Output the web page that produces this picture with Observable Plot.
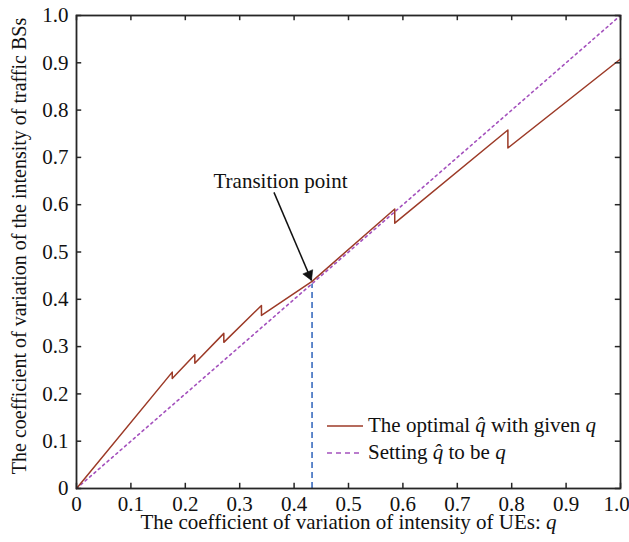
<!DOCTYPE html>
<html>
<head>
<meta charset="utf-8">
<script src="https://cdn.jsdelivr.net/npm/d3@7"></script>
<script src="https://cdn.jsdelivr.net/npm/@observablehq/plot@0.6"></script>
<style>
  body { margin: 0; background: #fff; }
  #wrap { position: relative; width: 629px; height: 542px; font-family: "Liberation Serif", "DejaVu Serif", serif; }
  #legend { position: absolute; left: 327px; top: 412px; font-size: 21px; color: #111; }
  .row { display: flex; align-items: center; height: 27px; white-space: nowrap; }
  .row svg { margin-right: 5px; }
  i { font-style: italic; }
</style>
</head>
<body>
<div id="wrap"><div id="legend"></div></div>
<script>
// ---- data ----
const optimalQ = [0, 0.176, 0.176, 0.2175, 0.2175, 0.2708, 0.2708, 0.340, 0.340, 0.433, 0.585, 0.585, 0.793, 0.793, 1.0];
const optimalQhat = [0, 0.246, 0.2326, 0.283, 0.265, 0.328, 0.309, 0.387, 0.366, 0.438, 0.591, 0.561, 0.758, 0.720, 0.908];
const refQ = [0, 1];
const refQhat = [0, 1];
const transitionQ = [0.433];
const transitionQhat = [0.432];
const arrowFrom = [0.363, 0.626];
const arrowTo = [0.432, 0.44];
const annotationText = ["Transition point"];
const annotationPos = [0.375, 0.649];
const xTicks = [0, 0.1, 0.2, 0.3, 0.4, 0.5, 0.6, 0.7, 0.8, 0.9, 1.0];
const xTickLabels = ["0", "0.1", "0.2", "0.3", "0.4", "0.5", "0.6", "0.7", "0.8", "0.9", "1.0"];
const yTicks = [0, 0.1, 0.2, 0.3, 0.4, 0.5, 0.6, 0.7, 0.8, 0.9, 1.0];
const yTickLabels = ["0", "0.1", "0.2", "0.3", "0.4", "0.5", "0.6", "0.7", "0.8", "0.9", "1.0"];
const xLabel = "The coefficient of variation of intensity of UEs: q";
const yLabel = "The coefficient of variation of the intensity of traffic BSs";
const seriesNames = ["The optimal q\u0302 with given q", "Setting q\u0302 to be q"];

// ---- styles ----
const RED = "#9c3a27";
const PURPLE = "#a451bd";
const BLUE = "#3b6cbf";
const AX = "#262626";
const FONT = "Liberation Serif";
const FS = 21;

const optimal = optimalQ.map((q, i) => ({q, v: optimalQhat[i]}));
const ref = refQ.map((q, i) => ({q, v: refQhat[i]}));
const trans = transitionQ.map((q, i) => ({q, v: transitionQhat[i]}));
const arrow = [{x1: arrowFrom[0], y1: arrowFrom[1], x2: arrowTo[0], y2: arrowTo[1]}];
const tl = 0.011;

const svg = Plot.plot({
  width: 629,
  height: 542,
  marginLeft: 76,
  marginRight: 9,
  marginTop: 15,
  marginBottom: 54,
  style: {fontFamily: FONT, fontSize: FS + "px", color: "#111", background: "transparent", overflow: "visible"},
  x: {domain: [0, 1]},
  y: {domain: [0, 1]},
  marks: [
    Plot.line(ref, {x: "q", y: "v", stroke: PURPLE, strokeWidth: 1.6, strokeDasharray: "2.2,3.6"}),
    Plot.ruleX(trans, {x: "q", y1: 0, y2: "v", stroke: BLUE, strokeWidth: 1.6, strokeDasharray: "6,4"}),
    Plot.line(optimal, {x: "q", y: "v", stroke: RED, strokeWidth: 1.5}),
    Plot.link(arrow, {x1: "x1", y1: "y1", x2: "x2", y2: "y2", stroke: "#111", strokeWidth: 1.5}),
    Plot.dot(arrow, {x: "x2", y: "y2", symbol: "triangle", r: 4, fill: "#111", stroke: "#111", strokeWidth: 0.5, rotate: 156.6, dx: -2.5, dy: -5.7}),
    Plot.text(annotationText, {x: () => annotationPos[0], y: () => annotationPos[1], text: d => d, fontSize: FS, fill: "#111"}),
    // inward ticks on all four sides
    Plot.ruleX(xTicks, {x: d => d, y1: 0, y2: tl, stroke: AX, strokeWidth: 1.5}),
    Plot.ruleX(xTicks, {x: d => d, y1: 1, y2: 1 - tl, stroke: AX, strokeWidth: 1.5}),
    Plot.ruleY(yTicks, {y: d => d, x1: 0, x2: tl * 0.87, stroke: AX, strokeWidth: 1.5}),
    Plot.ruleY(yTicks, {y: d => d, x1: 1, x2: 1 - tl * 0.87, stroke: AX, strokeWidth: 1.5}),
    Plot.axisX(xTicks, {tickSize: 0, tickPadding: 8, tickFormat: d => xTickLabels[xTicks.indexOf(d)], label: null, fontSize: FS, fill: "#111"}),
    Plot.axisY(yTicks, {tickSize: 0, tickPadding: 8, tickFormat: d => yTickLabels[yTicks.indexOf(d)], label: null, fontSize: FS, fill: "#111"}),
    Plot.text([xLabel], {frameAnchor: "bottom", text: d => d, dy: 34, lineAnchor: "middle", textAnchor: "middle", fontSize: FS, fill: "#111"}),
    Plot.text([yLabel], {frameAnchor: "left", text: d => d, dx: -57, dy: -6, rotate: -90, lineAnchor: "middle", textAnchor: "middle", fontSize: 20, fill: "#111"}),
    Plot.frame({stroke: AX, strokeWidth: 1.8})
  ]
});

const sel = d3.select(svg);
sel.selectAll("text").filter(function () { return this.textContent === xLabel; }).each(function () {
  const t = d3.select(this);
  t.text(null);
  t.append("tspan").text("The coefficient of variation of intensity of UEs: ");
  t.append("tspan").attr("font-style", "italic").text("q");
});
// keep the last x tick label inside the picture
sel.selectAll("[aria-label='x-axis tick label'] text").filter(function () { return this.textContent === xTickLabels[xTickLabels.length - 1]; })
  .attr("dx", -4);

const wrap = document.getElementById("wrap");
wrap.insertBefore(svg, wrap.firstChild);

// legend
const legend = document.getElementById("legend");
const fmt = s => s.replace(/q\u0302/g, "<i>q\u0302</i>").replace(/ q$/, " <i>q</i>");
const sw = [
  `<svg width="36" height="10"><line x1="0" y1="5" x2="36" y2="5" stroke="${RED}" stroke-width="1.5"/></svg>`,
  `<svg width="36" height="10"><line x1="0" y1="5" x2="36" y2="5" stroke="${PURPLE}" stroke-width="1.5" stroke-dasharray="5,4"/></svg>`
];
legend.innerHTML = seriesNames.map((n, i) => `<div class="row">${sw[i]}<span>${fmt(n)}</span></div>`).join("");
</script>
</body>
</html>
